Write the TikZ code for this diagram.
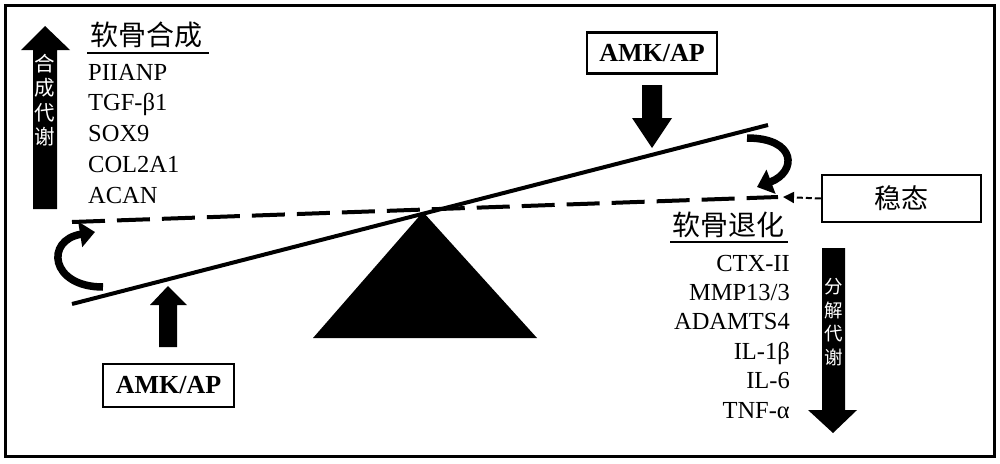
\documentclass[tikz,border=0pt]{standalone}
\usepackage{fontspec}
\setmainfont{Liberation Serif}
\newfontfamily\cjk{Noto Sans CJK SC}
\usetikzlibrary{arrows.meta}
\begin{document}
\begin{tikzpicture}[x=1pt,y=-1pt,
  lbl/.style={font=\fontsize{24.5}{28}\selectfont, inner sep=0pt},
  cjktitle/.style={font=\cjk\fontsize{28}{30}\selectfont, inner sep=0pt},
  amkbox/.style={draw, line width=2.5pt, font=\bfseries\fontsize{26}{28}\selectfont, inner sep=0pt},
  vtext/.style={text=white, align=center, inner sep=0pt},
  beam/.style={line width=4pt},
  dashline/.style={line width=4pt, dash pattern=on 33pt off 12pt},
  curvy/.style={line width=7.5pt, -{Triangle[length=15pt,width=25pt]}},
  smallarrow/.style={line width=2pt, dash pattern=on 6pt off 3pt, -{Triangle[length=11pt,width=11pt]}},
  uline/.style={line width=2pt}
]
\useasboundingbox (0,0) rectangle (1000,463);
\draw[line width=3pt] (5,5) rectangle (994,456);

% left block arrow (up)
\fill (33,209) -- (33,50) -- (21,50) -- (45,26) -- (70,50) -- (57,50) -- (57,209) -- cycle;
\node[vtext, font=\cjk\fontsize{20.5}{24.5}\selectfont] (synv) at (45,100) {合\\成\\代\\谢};

% left title & list
\node[cjktitle] (syn) at (146,35) {软骨合成};
\draw[uline] (87,53) -- (209,53);
\node[lbl, anchor=base west] (l1) at (88,80) {PIIANP};
\node[lbl, anchor=base west] (l2) at (88,110.8) {TGF-β1};
\node[lbl, anchor=base west] (l3) at (88,141.6) {SOX9};
\node[lbl, anchor=base west] (l4) at (88,172.4) {COL2A1};
\node[lbl, anchor=base west] (l5) at (88,203.2) {ACAN};

% top AMK/AP box and arrow
\node[amkbox, minimum width=130pt, minimum height=41pt] (amk1) at (652,53) {AMK/AP};
\fill (642,85) -- (662,85) -- (662,118) -- (672,118) -- (652,148) -- (632,118) -- (642,118) -- cycle;

% bottom AMK/AP box and arrow
\node[amkbox, minimum width=131pt, minimum height=43pt] (amk2) at (168.5,385.5) {AMK/AP};
\fill (159,347) -- (177,347) -- (177,305) -- (187,305) -- (168,286) -- (150,305) -- (159,305) -- cycle;

% dashed balance line and beam
\coordinate (dl) at (72,222);
\coordinate (dr) at (778,197);
\draw[dashline] (dl) -- (dr);
\coordinate (bl) at (72,304);
\coordinate (br) at (768,125);
\draw[beam] (bl) -- (br);

% fulcrum
\fill (423,212) -- (537,338) -- (313,338) -- cycle;

% curved arrows
\coordinate (ca1) at (103,287);
\coordinate (ca2) at (95,232);
\draw[curvy] (ca1) .. controls (50,287) and (45,240) .. (ca2);
\coordinate (cb1) at (747,138);
\coordinate (cb2) at (757,187);
\draw[curvy] (cb1) .. controls (797,138) and (797,172) .. (cb2);

% homeostasis box
\node[draw, line width=2.5pt, minimum width=159pt, minimum height=47pt, inner sep=0pt,
      font=\cjk\fontsize{27}{30}\selectfont] (wt) at (901.5,198.5) {稳态};
\coordinate (wtend) at (783,197);
\draw[smallarrow] (wt.west) -- (wtend);

% right title & list
\node[cjktitle] (deg) at (728,225) {软骨退化};
\draw[uline] (670,242) -- (788,242);
\node[lbl, anchor=base east] (r1) at (790,271) {CTX-II};
\node[lbl, anchor=base east] (r2) at (790,300.4) {MMP13/3};
\node[lbl, anchor=base east] (r3) at (790,329.8) {ADAMTS4};
\node[lbl, anchor=base east] (r4) at (790,359.2) {IL-1β};
\node[lbl, anchor=base east] (r5) at (790,388.6) {IL-6};
\node[lbl, anchor=base east] (r6) at (790,418) {TNF-α};

% right block arrow (down)
\fill (822,248) -- (845,248) -- (845,410) -- (857,410) -- (833,433) -- (808,410) -- (822,410) -- cycle;
\node[vtext, font=\cjk\fontsize{18.5}{23.5}\selectfont] (catv) at (833.5,322) {分\\解\\代\\谢};
\end{tikzpicture}
\end{document}
